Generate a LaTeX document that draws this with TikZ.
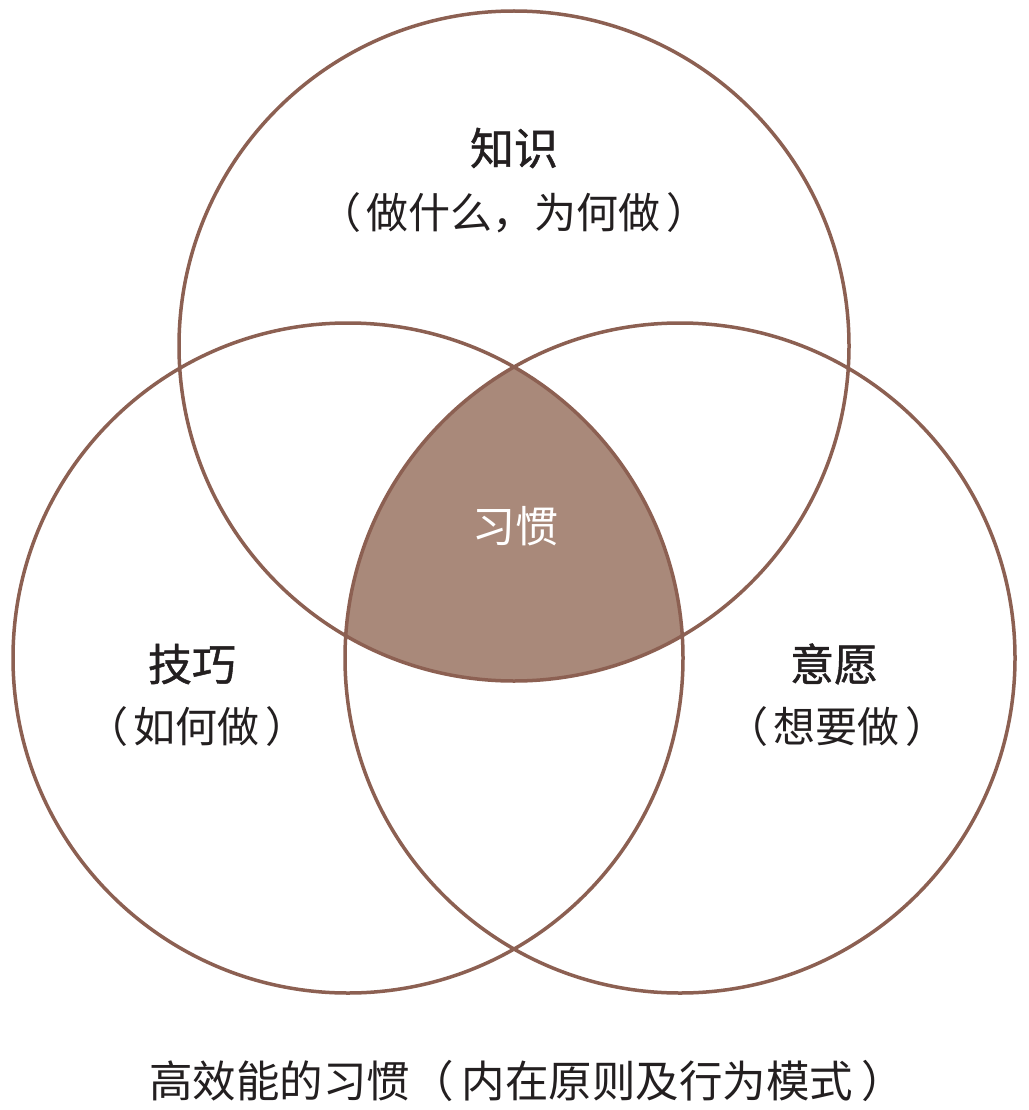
\documentclass[tikz,border=0pt]{standalone}
\usepackage{fontspec}
\setmainfont{Noto Sans CJK SC}
\newfontfamily\titlefont{Noto Sans CJK SC}[FakeBold=1.0]
\definecolor{ring}{RGB}{140,96,82}
\definecolor{core}{RGB}{169,137,122}
\definecolor{ink}{RGB}{35,31,32}
\begin{document}
\begin{tikzpicture}[x=1pt,y=-1pt,
  ringline/.style={draw=ring,line width=3.5pt},
  title/.style={text=ink,font=\titlefont\fontsize{44}{46}\selectfont,inner sep=0pt},
  core label/.style={text=white,font=\fontsize{43}{45}\selectfont,inner sep=0pt},
  sub/.style={text=ink,font=\fontsize{42}{44}\selectfont,inner sep=0pt},
  foot/.style={text=ink,font=\fontsize{43.5}{46}\selectfont,inner sep=0pt}]
\useasboundingbox[fill=white] (0,0) rectangle (1028,1110);
\coordinate (ct) at (514,346);
\coordinate (cl) at (348,658);
\coordinate (cr) at (680,658);
\begin{scope}
  \clip (ct) circle (335pt);
  \clip (cl) circle (335pt);
  \fill[core] (cr) circle (335pt);
\end{scope}
\draw[ringline] (ct) circle (335pt);
\draw[ringline] (cl) circle (335pt);
\draw[ringline] (cr) circle (335pt);
\node[title] (t1) at (514,148) {知识};
\node[sub] (s1) at (514,213) {（\hspace{6pt}做什么，为何做\hspace{6pt}）};
\node[title] (t2) at (192,664) {技巧};
\node[sub] (s2) at (197,727) {（\hspace{6pt}如何做\hspace{6pt}）};
\node[title] (t3) at (834,664) {意愿};
\node[sub] (s3) at (837,727) {（\hspace{6pt}想要做\hspace{6pt}）};
\node[core label] (t0) at (515,526) {习惯};
\node[foot] (f) at (527,1081) {高效能的习惯（\hspace{8pt}内在原则及行为模式\hspace{8pt}）};
\end{tikzpicture}
\end{document}
